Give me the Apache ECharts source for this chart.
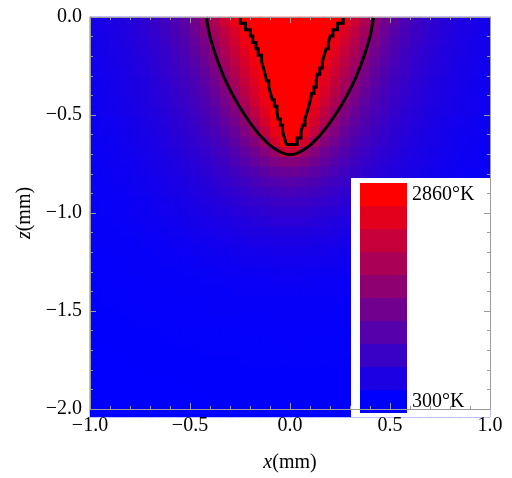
<!DOCTYPE html>
<html><head><meta charset="utf-8">
<script src="https://cdn.jsdelivr.net/npm/echarts@6/dist/echarts.min.js"></script>
<style>html,body{margin:0;padding:0;background:#fff}#c{width:512px;height:478px}</style>
</head><body><div id="c"></div>
<script>
// ---- data ----
// cell centres (mm): half-width columns (x >= 0, mirrored for x < 0) and depth rows
const halfXCenters = [0.025,0.075,0.125,0.175,0.225,0.275,0.325,0.375,0.425,0.475,0.525,0.575,0.625,0.675,0.725,0.775,0.825,0.875,0.925,0.975];
const depthCenters = [0.025,0.075,0.125,0.175,0.225,0.275,0.325,0.375,0.425,0.475,0.525,0.575,0.625,0.675,0.725,0.775,0.825,0.875,0.925,0.975,
  1.025,1.075,1.125,1.175,1.225,1.275,1.325,1.375,1.425,1.475,1.525,1.575,1.625,1.675,1.725,1.775,1.825,1.875,1.925,1.975];
// temperature (K) per depth row, columns follow halfXCenters
const tempHalf = [
[2860,2860,2860,2860,2860,2670,2352,2035,1720,1448,1228,1063,941,838,752,684,626,577,538,503],
[2860,2860,2860,2860,2775,2491,2208,1925,1630,1375,1172,1024,913,813,732,668,612,565,528,494],
[2860,2860,2860,2860,2666,2388,2111,1833,1545,1308,1122,989,880,788,714,650,599,555,519,485],
[2860,2860,2860,2833,2559,2286,2013,1733,1458,1240,1074,952,847,761,693,634,584,544,509,476],
[2860,2860,2860,2734,2461,2188,1915,1630,1375,1176,1030,917,818,737,672,617,570,532,499,466],
[2860,2860,2860,2652,2372,2091,1811,1526,1295,1118,986,880,788,715,653,601,557,522,489,457],
[2860,2860,2843,2557,2270,1983,1693,1432,1224,1066,946,844,761,694,636,587,547,512,480,452],
[2860,2860,2758,2461,2164,1866,1578,1344,1154,1015,908,815,736,672,618,573,536,503,470,446],
[2860,2860,2660,2349,2037,1730,1468,1256,1092,971,871,784,712,653,603,560,525,494,462,441],
[2860,2860,2548,2218,1886,1596,1361,1176,1035,928,833,754,690,636,589,550,516,485,456,436],
[2860,2773,2413,2052,1717,1468,1264,1109,989,877,790,718,656,605,560,524,492,460,438,417],
[2860,2638,2227,1817,1570,1348,1170,1038,928,831,750,687,631,584,544,511,479,451,430,411],
[2860,2415,1919,1625,1422,1232,1086,969,875,790,718,658,606,564,529,497,464,442,418,406],
[2330,1850,1640,1415,1272,1128,1003,910,822,746,687,631,584,545,513,481,454,433,414,400],
[1627,1554,1415,1270,1164,1030,937,847,767,708,651,605,564,529,497,466,444,421,407,394],
[1366,1313,1228,1125,1030,943,861,792,727,671,621,579,543,512,481,454,433,414,401,389],
[1156,1128,1071,1003,935,863,788,737,684,636,591,555,522,493,462,443,420,407,394,382],
[1008,986,952,906,847,784,737,687,643,598,564,531,501,467,449,430,412,399,387,377],
[893,880,849,813,770,726,684,643,601,567,536,509,481,455,435,417,405,390,381,372],
[793,784,763,736,705,670,636,599,567,539,513,487,460,442,419,409,396,384,376,367],
[706,700,683,663,636,609,584,556,529,508,483,458,442,424,410,398,386,376,369,361],
[632,627,615,597,580,557,538,518,498,477,454,438,422,408,397,386,377,369,362,356],
[570,567,559,547,533,516,501,485,467,446,433,419,405,396,386,375,369,362,356,351],
[519,516,511,502,491,480,465,450,436,424,413,400,392,382,373,367,360,355,349,344],
[470,466,460,454,449,441,433,425,416,405,395,388,379,371,365,359,353,348,343,339],
[436,433,427,422,419,415,409,402,395,388,382,375,367,362,357,351,346,342,338,335],
[409,407,402,399,396,392,388,384,379,374,368,363,359,353,349,345,340,337,334,331],
[388,386,382,380,378,376,373,369,365,361,356,354,350,345,342,339,335,333,330,328],
[374,372,367,366,365,363,360,357,355,353,349,346,343,340,336,334,332,329,327,324],
[360,359,355,354,353,352,350,349,347,344,342,340,337,334,332,330,327,325,323,321],
[351,350,347,346,346,344,343,341,340,338,336,334,332,330,329,327,324,322,320,318],
[341,340,337,337,337,335,335,334,333,331,329,328,327,325,324,322,320,319,317,316],
[336,335,333,333,332,332,331,330,329,328,327,326,324,323,321,320,318,317,316,314],
[331,331,329,329,329,328,328,327,326,325,324,323,322,320,319,317,316,315,314,313],
[328,328,326,326,326,325,325,324,323,322,321,320,319,317,317,316,314,313,313,311],
[325,325,323,323,323,322,322,321,320,319,319,317,317,316,315,314,313,312,311,311],
[322,322,320,320,320,319,319,318,317,317,316,316,315,314,313,313,312,311,310,310],
[319,319,317,317,317,317,316,316,316,315,314,314,313,313,312,311,311,310,310,309],
[317,316,315,315,315,314,314,314,314,313,313,312,312,311,311,310,310,309,308,308],
[314,314,313,313,313,313,313,312,312,311,311,311,310,310,310,309,308,308,307,307]
];
// smooth (outer) contour: depth z and half-width
const outerZ = [0,-0.05,-0.1,-0.15,-0.2,-0.25,-0.3,-0.35,-0.4,-0.45,-0.5,-0.55,-0.6,-0.625,-0.65,-0.67,-0.685,-0.697,-0.703];
const outerHalfW = [0.418,0.41,0.40,0.386,0.37,0.352,0.333,0.31,0.285,0.257,0.226,0.192,0.153,0.13,0.105,0.08,0.055,0.03,0];
// stair-step (inner) contour: row boundaries in z and the boundary x of each row
const innerLevels = [0,-0.0325,-0.065,-0.0975,-0.13,-0.1625,-0.195,-0.2275,-0.26,-0.2925,-0.325,-0.3575,-0.39,-0.4225,-0.455,-0.4875,-0.52,-0.5525,-0.585,-0.6175,-0.65];
const innerLeftX = [-0.248,-0.222,-0.198,-0.186,-0.170,-0.159,-0.142,-0.133,-0.124,-0.118,-0.106,-0.097,-0.089,-0.078,-0.065,-0.060,-0.048,-0.037,-0.028,-0.018];
const innerRightX = [0.266,0.238,0.215,0.201,0.192,0.181,0.171,0.162,0.149,0.137,0.131,0.120,0.108,0.102,0.094,0.085,0.075,0.064,0.055,0.036];
// tick labels
const xTickLabels = ['\u22121.0','\u22120.5','0.0','0.5','1.0'];
const zTickLabels = ['\u22122.0','\u22121.5','\u22121.0','\u22120.5','0.0'];
// colour legend
const legendColors = ['#0000ff','#1c00e3','#3900c6','#5500aa','#71008e','#8e0071','#aa0055','#c60039','#e3001c','#ff0000'];
const legendLabels = ['300\u00b0K','2860\u00b0K'];
const tMin = 300, tMax = 2860;

// ---- build chart ----
const FONT = '"Liberation Serif","Times New Roman",serif';
const xCats = halfXCenters.slice().reverse().map(v => (-v).toFixed(3)).concat(halfXCenters.map(v => v.toFixed(3)));
const zCats = depthCenters.slice().reverse().map(v => (-v).toFixed(3));
const nHalf = halfXCenters.length, nRows = depthCenters.length;
const heatData = [];
for (let j = 0; j < nRows; j++) {
  for (let c = 0; c < 2 * nHalf; c++) {
    const i = c < nHalf ? nHalf - 1 - c : c - nHalf;
    heatData.push([c, nRows - 1 - j, tempHalf[j][i]]);
  }
}
const outerData = [];
for (let k = 0; k < outerZ.length; k++) outerData.push([-outerHalfW[k], outerZ[k]]);
for (let k = outerZ.length - 2; k >= 0; k--) outerData.push([outerHalfW[k], outerZ[k]]);
const innerData = [];
for (let r = 0; r < innerLeftX.length; r++) {
  innerData.push([innerLeftX[r], innerLevels[r]]);
  innerData.push([innerLeftX[r], innerLevels[r + 1]]);
}
for (let r = innerRightX.length - 1; r >= 0; r--) {
  innerData.push([innerRightX[r], innerLevels[r + 1]]);
  innerData.push([innerRightX[r], innerLevels[r]]);
}
const step = (tMax - tMin) / legendColors.length;
const pieces = legendColors.map((c, k) => ({
  min: tMin + k * step, max: tMin + (k + 1) * step, color: c,
  label: k === legendColors.length - 1 ? legendLabels[1] : (k === 0 ? legendLabels[0] : ' ')
}));

const GRID = {left: 90, top: 17, width: 400, height: 400};
const frameColor = '#9a9a9a';
function frameAxis(extra) {
  return Object.assign({
    gridIndex: 1, type: 'value', z: 10,
    axisLine: {show: true, onZero: false, lineStyle: {color: frameColor, width: 1}},
    axisTick: {show: true, inside: true, length: 6, lineStyle: {color: frameColor}},
    minorTick: {show: true, splitNumber: 5, length: 3, lineStyle: {color: frameColor}},
    splitLine: {show: false}
  }, extra);
}
const labelStyle = {fontFamily: FONT, fontSize: 20, color: '#000'};
const nameStyle = {fontFamily: FONT, fontSize: 20, color: '#000',
  rich: {i: {fontFamily: FONT, fontSize: 20, fontStyle: 'italic', color: '#000'}}};

const chart = echarts.init(document.getElementById('c'));
chart.setOption({
  animation: false,
  grid: [Object.assign({}, GRID), Object.assign({}, GRID)],
  xAxis: [
    {gridIndex: 0, type: 'category', data: xCats, show: false},
    frameAxis({min: -1, max: 1, interval: 0.5, position: 'bottom',
      axisLabel: Object.assign({margin: 7, formatter: v => xTickLabels[Math.round((v + 1) / 0.5)]}, labelStyle),
      name: '{i|x}(mm)', nameLocation: 'middle', nameGap: 44, nameTextStyle: nameStyle}),
    frameAxis({min: -1, max: 1, interval: 0.5, position: 'top', axisLabel: {show: false}})
  ],
  yAxis: [
    {gridIndex: 0, type: 'category', data: zCats, show: false},
    frameAxis({min: -2, max: 0, interval: 0.5, position: 'left',
      axisLabel: Object.assign({margin: 8, formatter: v => zTickLabels[Math.round((v + 2) / 0.5)]}, labelStyle),
      name: '{i|z}(mm)', nameLocation: 'middle', nameGap: 53, nameRotate: 90, nameTextStyle: nameStyle}),
    frameAxis({min: -2, max: 0, interval: 0.5, position: 'right', axisLabel: {show: false}})
  ],
  visualMap: [
    {type: 'continuous', seriesIndex: 0, dimension: 2, min: tMin, max: tMax, show: false,
      inRange: {color: ['#0000ff', '#ff0000']}},
    {type: 'piecewise', seriesIndex: 3, orient: 'vertical', align: 'left', left: 360, top: 183, padding: 0,
      itemWidth: 47, itemHeight: 23, itemGap: 0, itemSymbol: 'rect', textGap: 5,
      selectedMode: false, pieces: pieces, z: 6,
      textStyle: {fontFamily: FONT, fontSize: 20, color: '#000'}}
  ],
  graphic: [{type: 'rect', left: 351, top: 178, z: 5, silent: true,
    shape: {width: 139, height: 239}, style: {fill: '#ffffff'}}],
  series: [
    {type: 'heatmap', xAxisIndex: 0, yAxisIndex: 0, data: heatData, z: 1, silent: true,
      itemStyle: {borderWidth: 0}},
    {type: 'line', xAxisIndex: 1, yAxisIndex: 1, data: outerData, smooth: 0.35, symbol: 'none',
      lineStyle: {color: '#000', width: 3}, z: 3, silent: true},
    {type: 'line', xAxisIndex: 1, yAxisIndex: 1, data: innerData, symbol: 'none',
      lineStyle: {color: '#000', width: 3, join: 'miter'}, z: 3, silent: true},
    {type: 'scatter', xAxisIndex: 1, yAxisIndex: 1, data: [], silent: true}
  ]
});
</script></body></html>
